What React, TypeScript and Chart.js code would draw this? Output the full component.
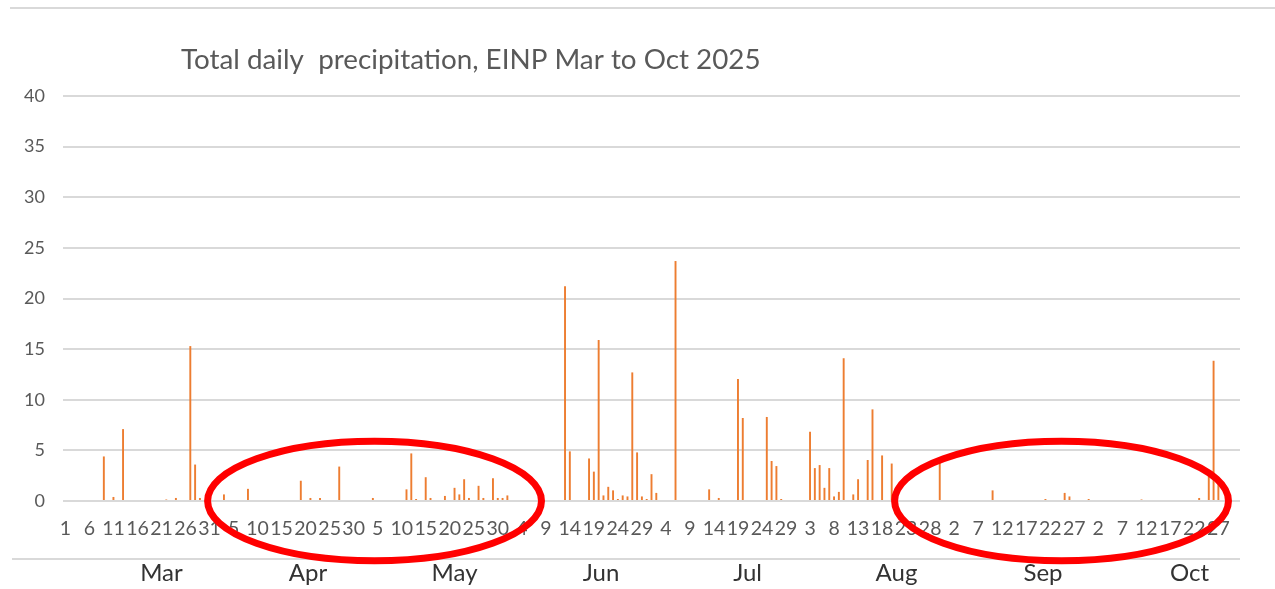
import React, { useEffect, useRef } from 'react';
import { Chart, registerables } from 'chart.js';

Chart.register(...registerables);

const TITLE = 'Total daily  precipitation, EINP Mar to Oct 2025';
const MONTHS = ['Mar', 'Apr', 'May', 'Jun', 'Jul', 'Aug', 'Sep', 'Oct'];

// Daily precipitation (mm), one value per day of the month
const mar = [0, 0, 0, 0, 0, 0, 0, 0, 4.4, 0, 0.4, 0, 7.1, 0, 0, 0, 0, 0, 0, 0, 0, 0.15, 0, 0.3, 0, 0, 15.3, 3.6, 0.3, 0, 0];
const apr = [0, 0, 0.65, 0, 0, 0, 0, 1.2, 0, 0, 0, 0, 0, 0, 0, 0, 0, 0, 2.0, 0, 0.3, 0, 0.3, 0, 0, 0, 3.4, 0, 0, 0];
const may = [0, 0, 0, 0.3, 0, 0, 0, 0, 0, 0, 1.15, 4.7, 0.2, 0, 2.35, 0.3, 0, 0, 0.5, 0, 1.3, 0.65, 2.15, 0.3, 0, 1.5, 0.3, 0, 2.25, 0.3, 0.3];
const jun = [0.55, 0, 0, 0, 0, 0, 0, 0, 0, 0, 0, 0, 21.2, 4.9, 0, 0, 0, 4.2, 2.9, 15.9, 0.55, 1.4, 1.05, 0.2, 0.55, 0.45, 12.7, 4.8, 0.45, 0.2];
const jul = [2.65, 0.8, 0, 0, 0, 23.7, 0, 0, 0, 0, 0, 0, 1.15, 0, 0.3, 0, 0, 0, 12.05, 8.2, 0, 0, 0, 0, 8.3, 3.95, 3.45, 0.2, 0, 0, 0];
const aug = [0, 0, 6.85, 3.25, 3.55, 1.3, 3.25, 0.45, 0.9, 14.1, 0, 0.65, 2.15, 0, 4.05, 9.05, 0, 4.5, 0, 3.7, 0, 0, 0, 0, 0, 0, 0, 0, 0, 3.9, 0];
const sep = [0, 0, 0, 0, 0, 0, 0, 0, 0, 1.05, 0, 0, 0, 0, 0, 0, 0, 0, 0, 0, 0.2, 0, 0, 0, 0.8, 0.45, 0, 0, 0, 0.2];
const oct = [0, 0, 0, 0, 0, 0, 0, 0, 0, 0, 0.15, 0, 0, 0, 0, 0, 0, 0, 0, 0, 0, 0, 0.3, 0, 2.7, 13.85, 2.0, 0, 0, 0, 0];

// Y axis range
const Y_MIN = 0;
const Y_MAX = 40;
const Y_STEP = 5;

// Highlighted periods (category index range, and half-height in mm around zero)
const highlightFrom = [29.6, 172.6];
const highlightTo = [99.1, 242.1];
const highlightHalfHeight = 5.9;

const monthly = [mar, apr, may, jun, jul, aug, sep, oct];
const dayLabels: string[] = [];
const values: number[] = [];
const monthStart: number[] = [];
monthly.forEach((arr) => {
  monthStart.push(values.length);
  arr.forEach((v, i) => {
    dayLabels.push(String(i + 1));
    values.push(v);
  });
});

const FONT = 'Lato, "Open Sans", sans-serif';

const decor = {
  id: 'decor',
  afterDraw(chart: any) {
    const { ctx, chartArea, scales } = chart;
    const xs = scales.x;
    const ys = scales.y;
    ctx.save();
    // frame line at the top
    ctx.strokeStyle = '#d9d9d9';
    ctx.lineWidth = 2;
    ctx.beginPath();
    ctx.moveTo(10, 8);
    ctx.lineTo(chart.width, 8);
    ctx.stroke();
    // title
    ctx.fillStyle = '#595959';
    ctx.font = '27.8px ' + FONT;
    ctx.textAlign = 'left';
    ctx.textBaseline = 'middle';
    ctx.fillText(TITLE, chartArea.left + 118, 60);
    // separator between day and month rows
    ctx.strokeStyle = '#d9d9d9';
    ctx.lineWidth = 2;
    ctx.beginPath();
    ctx.moveTo(12, 559);
    ctx.lineTo(chartArea.right, 559);
    ctx.stroke();
    // month labels
    ctx.fillStyle = '#333333';
    ctx.font = '24px ' + FONT;
    ctx.textAlign = 'center';
    MONTHS.forEach((m, k) => {
      const len = monthly[k].length;
      const mid = monthStart[k] + len / 2 - 0.5 + 5;
      ctx.fillText(m, xs.getPixelForValue(mid), 573);
    });
    // highlight ellipses
    ctx.strokeStyle = '#ff0000';
    ctx.lineWidth = 7;
    highlightFrom.forEach((f, k) => {
      const x1 = xs.getPixelForValue(f);
      const x2 = xs.getPixelForValue(highlightTo[k]);
      const y0 = ys.getPixelForValue(0);
      const yt = ys.getPixelForValue(highlightHalfHeight);
      ctx.beginPath();
      ctx.ellipse((x1 + x2) / 2, y0, (x2 - x1) / 2, y0 - yt, 0, 0, Math.PI * 2);
      ctx.stroke();
    });
    ctx.restore();
  },
};

export default function App() {
  const ref = useRef<HTMLCanvasElement | null>(null);
  useEffect(() => {
    document.body.style.margin = '0';
    const canvas = ref.current;
    if (!canvas) return;
    const chart = new Chart(canvas, {
      type: 'bar',
      data: {
        labels: dayLabels,
        datasets: [
          {
            data: values,
            backgroundColor: '#ED7D31',
            barPercentage: 0.4,
            categoryPercentage: 1,
          },
        ],
      },
      options: {
        responsive: false,
        animation: false,
        layout: { padding: { top: 96, right: 35, left: 0, bottom: 0 } },
        plugins: {
          legend: { display: false },
          tooltip: { enabled: false },
          title: { display: false },
        },
        scales: {
          x: {
            grid: { display: false, drawTicks: false },
            border: { display: false },
            ticks: {
              autoSkip: false,
              maxRotation: 0,
              minRotation: 0,
              padding: 16,
              color: '#595959',
              font: { family: FONT, size: 19.5 },
              callback: (_v: any, i: number) => (i % 5 === 0 ? dayLabels[i] : ''),
            },
            afterFit: (s: any) => {
              s.height = 88;
            },
          },
          y: {
            min: Y_MIN,
            max: Y_MAX,
            ticks: {
              stepSize: Y_STEP,
              padding: 18,
              color: '#595959',
              font: { family: FONT, size: 18 },
            },
            grid: { color: '#d9d9d9', lineWidth: 2, drawTicks: false },
            border: { display: false },
            afterFit: (s: any) => {
              s.width = 63;
            },
          },
        },
      } as any,
      plugins: [decor],
    });
    return () => chart.destroy();
  }, []);
  return (
    <div style={{ width: 1275, height: 589, background: '#fff' }}>
      <canvas ref={ref} width={1275} height={589} style={{ display: 'block' }} />
    </div>
  );
}
